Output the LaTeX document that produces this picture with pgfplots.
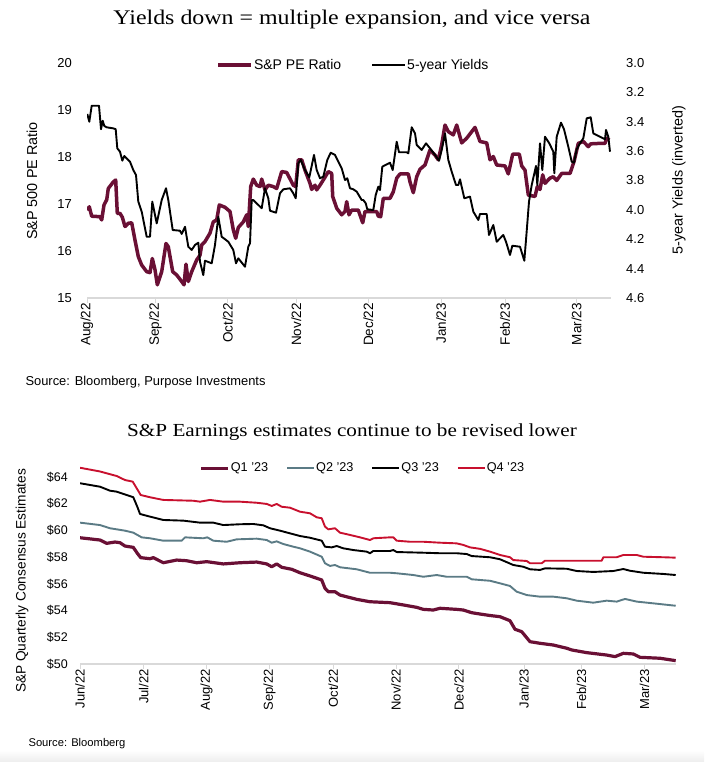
\documentclass[border=0pt]{standalone}
\usepackage{fontspec}
\setmainfont{Liberation Sans}
\newfontfamily\titlefont{Liberation Serif}[FakeStretch=1.15]
\usepackage{pgfplots}
\pgfplotsset{compat=1.18}
\definecolor{maroon}{HTML}{6A1035}
\definecolor{tealg}{HTML}{5B7B85}
\definecolor{redq}{HTML}{C8102E}
\definecolor{axgray}{HTML}{D9D9D9}
\pgfplotsset{
  base/.style={
    scale only axis,
    axis x line*=bottom, axis y line*=left,
    x axis line style={draw=axgray, line width=1.2pt},
    y axis line style={draw=none},
    xtick style={draw=axgray, line width=1pt},
    ytick style={draw=none},
    tick align=outside, major tick length=5pt,
    xticklabel style={rotate=90, anchor=east, inner sep=0pt},
    yticklabel style={inner sep=0pt},
    every axis plot/.append style={no markers, line join=round},
  }
}
\begin{document}
\begin{tikzpicture}[x=1pt,y=1pt]
\useasboundingbox (0,0) rectangle (704,762);
\shade[top color=white,bottom color=black!7] (0,0) rectangle (704,12);
\node[anchor=base,font=\titlefont\fontsize{20.8}{24}\selectfont] at (352,737) {Yields down = multiple expansion, and vice versa};
\node[anchor=base west,font=\fontsize{12.9}{15}\selectfont] at (22,376) {Source: Bloomberg, Purpose Investments};
\node[anchor=base,font=\titlefont\fontsize{18.4}{22}\selectfont] at (352,325) {S\&P Earnings estimates continue to be revised lower};
\node[anchor=base west,font=\fontsize{11.2}{13}\selectfont] at (25,15) {Source: Bloomberg};
\node[rotate=90,font=\fontsize{14.4}{16}\selectfont] at (32,581) {S\&P 500 PE Ratio};
\node[rotate=90,font=\fontsize{14.4}{16}\selectfont] at (679,582) {5-year Yields (inverted)};
\node[rotate=90,font=\fontsize{13.7}{16}\selectfont] at (22,181) {S\&P Quarterly Consensus Estimates};

% ---------- top chart, left axis ----------
\begin{axis}[base,
  at={(87pt,464pt)}, anchor=south west,
  width=524pt, height=235pt,
  xmin=0, xmax=524, ymin=15, ymax=20,
  xtick={0,68.4,140.7,209.4,281.2,354,418,489.6},
  xticklabels={Aug/22,Sep/22,Oct/22,Nov/22,Dec/22,Jan/23,Feb/23,Mar/23},
  ytick={15,16,17,18,19,20},
  yticklabels={15,16,17,18,19,20},
  xticklabel style={font=\fontsize{13.5}{14}\selectfont},
  yticklabel style={font=\fontsize{13}{14}\selectfont, xshift=-10pt},
  legend columns=2,
  legend style={at={(axis description cs:0.5076,0.9915)}, anchor=center,
    draw=none, fill=none, inner sep=0pt,
    font=\fontsize{14}{15}\selectfont,
    nodes={inner sep=1pt},
    /tikz/every even column/.append style={column sep=29pt}},
  legend image code/.code={\draw[#1,line cap=butt] (0pt,0pt) -- (33pt,0pt);},
]
\addplot[color=maroon, line width=3.5pt] table[row sep=\\] {
x y\\
0 16.87\\ 2.3 16.94\\ 4.7 16.74\\ 13 16.73\\ 14.7 16.66\\ 17 16.98\\ 19.7 17.09\\ 21.3 17.33\\
26.3 17.47\\ 28.7 17.51\\ 30.3 16.80\\ 33 16.80\\ 35.3 16.72\\ 38 16.52\\ 41.3 16.59\\ 44.7 16.60\\
48 16.23\\ 51.3 15.88\\ 54.7 15.70\\ 59.7 15.56\\ 63 15.54\\ 65.3 15.84\\ 68 15.60\\ 70.3 15.28\\
74.7 15.56\\ 79 16.16\\ 81.3 16.09\\ 85.7 15.56\\ 89.7 15.49\\ 94.7 15.35\\ 97 15.28\\ 99 15.72\\
101.3 15.35\\ 104.7 15.56\\ 109.7 15.81\\ 113 15.91\\ 114.7 16.13\\ 118 16.20\\ 123 16.38\\ 126.3 16.62\\
129.7 16.66\\ 132.3 16.98\\ 138 16.93\\ 143 16.84\\ 146.3 16.45\\ 148.7 16.27\\ 151.3 16.50\\ 156.3 16.62\\
159.7 16.77\\ 161.3 16.52\\ 163.7 17.37\\ 166.3 17.53\\ 169.7 17.40\\ 173 17.37\\ 174.7 17.53\\ 178 17.30\\
181.3 17.40\\ 186.3 17.37\\ 189.7 17.33\\ 194.7 17.69\\ 199.7 17.67\\ 206.3 17.40\\ 208.7 17.37\\ 211.3 17.94\\
214.7 17.94\\ 218 17.72\\ 223 17.44\\ 224.7 17.31\\ 228 17.40\\ 229.7 17.30\\ 233 17.40\\ 238 17.57\\
241.3 17.69\\ 244.7 17.65\\ 245.7 17.16\\ 249.7 16.91\\ 254.7 16.77\\ 258 16.84\\ 259.7 17.05\\ 262 16.77\\
264.7 16.87\\ 271.3 16.87\\ 275.7 16.60\\ 278 16.84\\ 289.7 16.84\\ 291.3 16.74\\ 293.7 16.73\\ 296.3 17.12\\
303 17.12\\ 306.3 17.26\\ 309.7 17.55\\ 313 17.64\\ 321.3 17.64\\ 323 17.47\\ 326.3 17.24\\ 329.7 17.58\\
333 17.74\\ 338 17.83\\ 343 18.15\\ 348 18.04\\ 351.3 17.94\\ 354.7 18.26\\ 358 18.68\\ 361.3 18.54\\
366.3 18.47\\ 369.7 18.68\\ 374.7 18.30\\ 379.7 18.40\\ 388 18.63\\ 393 18.33\\ 399.7 18.30\\ 403 17.94\\
406.3 18.01\\ 409.7 17.83\\ 418 17.81\\ 421.3 17.64\\ 425.7 18.06\\ 432.3 18.06\\ 434.7 17.81\\ 438 17.72\\
441.3 17.19\\ 448 17.16\\ 450.3 17.37\\ 453 17.31\\ 455.7 17.62\\ 458 17.44\\ 463 17.55\\ 466.3 17.58\\
469.7 17.50\\ 474.7 17.65\\ 483 17.65\\ 487 17.90\\ 491.3 18.29\\ 496.3 18.33\\ 501.3 18.22\\ 503.7 18.28\\
513 18.29\\ 518 18.29\\ 519.7 18.40\\ 522.3 18.36\\
};
\addlegendentry{S\&P PE Ratio}
\addlegendimage{black, line width=2pt}
\addlegendentry{5-year Yields}
\end{axis}

% ---------- top chart, right axis (inverted) ----------
\begin{axis}[base,
  at={(87pt,464pt)}, anchor=south west,
  width=524pt, height=235pt,
  xmin=0, xmax=524, ymin=3.0, ymax=4.6, y dir=reverse,
  axis x line=none, axis y line*=right,
  ytick={3.0,3.2,3.4,3.6,3.8,4.0,4.2,4.4,4.6},
  yticklabels={3.0,3.2,3.4,3.6,3.8,4.0,4.2,4.4,4.6},
  yticklabel style={font=\fontsize{13}{14}\selectfont, xshift=10pt},
]
\addplot[color=black, line width=1.9pt] table[row sep=\\] {
x y\\
0.3 3.347\\ 2.3 3.400\\ 4.7 3.291\\ 12 3.291\\ 14 3.451\\ 15.7 3.393\\ 17.3 3.429\\ 19.7 3.438\\
26.3 3.445\\ 28.7 3.451\\ 30.3 3.581\\ 33 3.604\\ 35.3 3.665\\ 37.3 3.633\\ 43 3.672\\ 46.3 3.729\\
49 3.763\\ 51.3 3.944\\ 54.7 4.012\\ 59.7 4.183\\ 63 4.183\\ 65.3 3.944\\ 69.7 4.092\\ 74.7 3.933\\
79 3.853\\ 81.3 3.933\\ 85.7 4.137\\ 93 4.142\\ 94.7 4.164\\ 98 4.115\\ 101.3 4.251\\ 104.7 4.273\\
108 4.239\\ 111.3 4.224\\ 113 4.353\\ 116.3 4.444\\ 118 4.346\\ 124.7 4.364\\ 128 4.239\\ 131.3 4.047\\
134.7 4.183\\ 141.3 4.217\\ 146.3 4.273\\ 149 4.364\\ 151.3 4.330\\ 158 4.387\\ 161.3 4.251\\ 163 4.228\\
164.7 3.933\\ 166.3 3.933\\ 173 3.978\\ 174.7 3.989\\ 178 3.853\\ 181.3 3.921\\ 183 4.006\\ 189 4.019\\
193 3.887\\ 196.3 3.860\\ 203 3.853\\ 206.3 3.887\\ 208.7 3.921\\ 211.3 3.683\\ 213.7 3.660\\ 218 3.729\\
222.3 3.778\\ 227 3.626\\ 229.7 3.729\\ 233 3.785\\ 236.3 3.774\\ 240.3 3.660\\ 243.7 3.611\\ 248 3.626\\
251.3 3.672\\ 254.7 3.717\\ 258 3.797\\ 260.3 3.785\\ 263 3.853\\ 266.3 3.860\\ 269.7 3.876\\ 274.7 3.933\\
276.3 3.933\\ 278.7 3.955\\ 280.3 3.996\\ 286.3 4.001\\ 288.7 3.899\\ 291.3 3.842\\ 293 3.865\\ 295.3 3.706\\
300.3 3.688\\ 303 3.679\\ 305.7 3.729\\ 309.7 3.536\\ 312 3.608\\ 319.7 3.608\\ 321.3 3.615\\ 324.7 3.438\\
328 3.479\\ 329.7 3.558\\ 334.7 3.592\\ 339 3.547\\ 343 3.581\\ 348 3.626\\ 352 3.665\\ 354.7 3.592\\
358 3.479\\ 361.3 3.660\\ 364.7 3.740\\ 369 3.831\\ 371.3 3.831\\ 373 3.792\\ 377.3 3.921\\ 383 3.910\\
386.3 4.012\\ 391.3 4.069\\ 393 4.028\\ 399.7 4.028\\ 402 4.171\\ 406.3 4.103\\ 409.7 4.217\\ 416.3 4.171\\
419 4.217\\ 423 4.307\\ 425.3 4.244\\ 433 4.251\\ 437.3 4.346\\ 439 4.205\\ 442 3.944\\ 444.7 3.831\\
449 3.701\\ 450.3 3.831\\ 453 3.547\\ 455.3 3.729\\ 458 3.502\\ 462.3 3.547\\ 466.3 3.604\\ 467.3 3.751\\
469.7 3.502\\ 474 3.406\\ 477 3.451\\ 481.3 3.570\\ 484.7 3.672\\ 487 3.679\\ 489.7 3.588\\ 493 3.547\\
496.3 3.513\\ 499.7 3.377\\ 503.7 3.370\\ 506.3 3.479\\ 513 3.502\\ 518 3.519\\ 519 3.456\\ 521.3 3.502\\
523 3.604\\
};
\end{axis}

% ---------- bottom chart ----------
\begin{axis}[base,
  at={(80pt,98pt)}, anchor=south west,
  width=596pt, height=207.08pt,
  xmin=0, xmax=596, ymin=50, ymax=65.5,
  xtick={0,63.7,126.6,189.4,253.2,316,378.9,444,501.5,564.4},
  xticklabels={Jun/22,Jul/22,Aug/22,Sep/22,Oct/22,Nov/22,Dec/22,Jan/23,Feb/23,Mar/23},
  ytick={50,52,54,56,58,60,62,64},
  yticklabels={\$50,\$52,\$54,\$56,\$58,\$60,\$62,\$64},
  xticklabel style={font=\fontsize{13}{14}\selectfont},
  yticklabel style={font=\fontsize{12.5}{14}\selectfont, xshift=-7pt},
  legend columns=4,
  legend style={at={(axis description cs:0.4738,0.945)}, anchor=center,
    draw=none, fill=none, inner sep=0pt,
    font=\fontsize{12.7}{14}\selectfont,
    nodes={inner sep=1pt},
    /tikz/every even column/.append style={column sep=17pt}},
  legend image code/.code={\draw[#1,line cap=butt] (0pt,0pt) -- (27pt,0pt);},
]
\addplot[color=maroon, line width=3.2pt] table[row sep=\\] {
x y\\
0 59.45\\ 20 59.28\\ 26.7 59.03\\ 35 59.13\\ 40 59.08\\ 45 58.83\\ 53.3 58.73\\ 57.3 58.29\\
60.7 57.96\\ 70 57.88\\ 73.3 57.96\\ 83.3 57.58\\ 96.7 57.78\\ 106.7 57.73\\ 116.7 57.58\\ 126.7 57.66\\
143.3 57.49\\ 160 57.58\\ 176.7 57.63\\ 186.7 57.49\\ 191.7 57.28\\ 196.7 57.49\\ 201.7 57.24\\ 211.7 57.09\\
220 56.83\\ 230 56.59\\ 241.7 56.29\\ 245 55.67\\ 248.3 55.41\\ 255 55.41\\ 260 55.16\\ 276.7 54.84\\
290 54.66\\ 310 54.59\\ 323.3 54.42\\ 336.7 54.24\\ 343.3 54.09\\ 353.3 54.04\\ 360 54.17\\ 376.7 54.09\\
383.3 54.04\\ 391.7 53.84\\ 400 53.74\\ 410 53.63\\ 420 53.54\\ 430 53.24\\ 435 52.60\\ 441.7 52.42\\
450 51.67\\ 460 51.55\\ 473.3 51.42\\ 486.7 51.18\\ 491.7 51.05\\ 506.7 50.85\\ 526.7 50.67\\ 535 50.55\\
543.3 50.80\\ 553.3 50.75\\ 560 50.50\\ 580 50.43\\ 595.7 50.25\\
};
\addlegendentry{Q1 '23}
\addplot[color=tealg, line width=1.9pt] table[row sep=\\] {
x y\\
0 60.58\\ 20 60.40\\ 30 60.16\\ 36.7 60.08\\ 45 59.98\\ 53.3 59.83\\ 61.7 59.48\\ 70 59.41\\
83.3 59.23\\ 101.7 59.23\\ 105 59.48\\ 123.3 59.41\\ 127.3 59.48\\ 133.3 59.23\\ 146.7 59.15\\ 156.7 59.33\\
176.7 59.38\\ 186.7 59.28\\ 191.7 59.08\\ 196.7 59.18\\ 203.3 58.98\\ 213.3 58.78\\ 220 58.66\\ 230 58.41\\
241.7 58.03\\ 245 57.54\\ 250 57.34\\ 255 57.41\\ 260 57.24\\ 276.7 57.09\\ 290 56.83\\ 310 56.83\\
316.7 56.79\\ 333.3 56.66\\ 343.3 56.53\\ 356.7 56.66\\ 366.7 56.53\\ 386.7 56.53\\ 391.7 56.34\\ 400 56.29\\
410 56.23\\ 420 56.04\\ 430 55.84\\ 436.7 55.41\\ 446.7 55.16\\ 460 55.04\\ 473.3 55.04\\ 486.7 54.92\\
496.7 54.74\\ 513.3 54.59\\ 526.7 54.74\\ 536.7 54.67\\ 545 54.87\\ 556.7 54.67\\ 573.3 54.54\\ 595.7 54.36\\
};
\addlegendentry{Q2 '23}
\addplot[color=black, line width=1.9pt] table[row sep=\\] {
x y\\
0 63.53\\ 20 63.27\\ 30 62.97\\ 36.7 62.90\\ 46.7 62.65\\ 53.3 62.48\\ 57.3 61.77\\ 60 61.23\\
70 61.03\\ 83.3 60.78\\ 103.3 60.73\\ 120 60.58\\ 133.3 60.58\\ 143.3 60.40\\ 160 60.46\\ 173.3 60.48\\
183.3 60.38\\ 190 60.16\\ 200 59.98\\ 210 59.78\\ 220 59.58\\ 230 59.45\\ 241.7 59.23\\ 245 58.78\\
251.7 58.73\\ 256.7 58.83\\ 263.3 58.66\\ 273.3 58.53\\ 286.7 58.41\\ 290 58.29\\ 293.3 58.46\\ 310 58.46\\
313.3 58.53\\ 316.7 58.38\\ 343.3 58.33\\ 360 58.29\\ 376.7 58.29\\ 386.7 58.23\\ 391.7 58.08\\ 410 57.99\\
420 57.84\\ 433.3 57.41\\ 443.3 57.28\\ 450 57.09\\ 460 57.04\\ 465 57.16\\ 486.7 57.13\\ 496.7 56.96\\
513.3 56.89\\ 533.3 56.96\\ 543.3 57.11\\ 550 56.98\\ 563.3 56.83\\ 583.3 56.74\\ 595.7 56.66\\
};
\addlegendentry{Q3 '23}
\addplot[color=redq, line width=1.9pt] table[row sep=\\] {
x y\\
0 64.69\\ 20 64.41\\ 36.7 64.07\\ 45 63.77\\ 52.7 63.65\\ 56.7 63.15\\ 60.7 62.65\\ 70 62.48\\
83.3 62.28\\ 113.3 62.22\\ 120 62.15\\ 130 62.28\\ 143.3 62.15\\ 160 62.15\\ 176.7 62.07\\ 186.7 61.98\\
191.7 61.83\\ 196.7 61.98\\ 201.7 61.77\\ 210 61.70\\ 220 61.40\\ 230 61.28\\ 236.7 60.98\\ 241.7 60.91\\
245 60.28\\ 248.3 60.08\\ 255 60.16\\ 260 59.83\\ 270 59.66\\ 280 59.48\\ 290 59.28\\ 293.3 59.41\\
310 59.48\\ 313.3 59.48\\ 316.7 59.23\\ 330 59.15\\ 343.3 59.15\\ 360 59.08\\ 376.7 59.03\\ 383.3 58.91\\
390 58.73\\ 400 58.62\\ 410 58.41\\ 420 58.16\\ 430 57.99\\ 433.3 57.78\\ 446.7 57.71\\ 450 57.54\\
461.7 57.54\\ 465 57.73\\ 486.7 57.73\\ 521.7 57.73\\ 523.3 57.99\\ 536.7 57.99\\ 543.3 58.16\\ 556.7 58.16\\
563.3 58.03\\ 583.3 57.99\\ 595.7 57.96\\
};
\addlegendentry{Q4 '23}
\end{axis}
\end{tikzpicture}
\end{document}
